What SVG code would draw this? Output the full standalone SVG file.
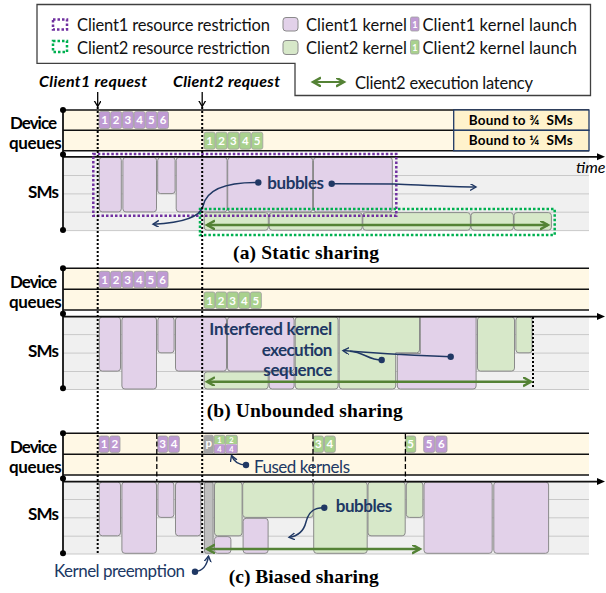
<svg xmlns="http://www.w3.org/2000/svg" width="606" height="593" viewBox="0 0 606 593">
<style>
  text { font-family: Lato, "Liberation Sans", sans-serif; }
  .lane { fill: #fff8e5; }
  .ln { stroke: #111; stroke-width: 1.6; }
  .axis { stroke: #111; stroke-width: 1.8; }
  .smbg { fill: #f0f0f0; }
  .grid { stroke: #c9c9c9; stroke-width: 1; }
  .k1 { fill: #e2d1e9; stroke: #8a8a8a; stroke-width: 1; }
  .k2 { fill: #d7e8c9; stroke: #8a8a8a; stroke-width: 1; }
  .kp { fill: #bfbfbf; stroke: #8a8a8a; stroke-width: 1; }
  .q1 { fill: #bf9bd3; stroke: #a0a0a0; stroke-width: 0.8; }
  .q2 { fill: #a9d18e; stroke: #a0a0a0; stroke-width: 0.8; }
  .qp { fill: #a5a5a5; stroke: #a0a0a0; stroke-width: 0.8; }
  .qt { font-size: 11.5px; font-weight: bold; fill: #fff; text-anchor: middle; }
  .qs { font-size: 9px; font-weight: bold; fill: #fff; text-anchor: middle; }
  .qf { font-size: 7.5px; font-weight: bold; fill: #fff; text-anchor: middle; }
  .lbl { font-size: 17px; font-weight: bold; fill: #000; }
  .leg { font-size: 16.5px; fill: #111; }
  .req { font-size: 16px; font-weight: bold; font-style: italic; fill: #000; }
  .cap { font-family: "Liberation Serif", "Times New Roman", serif; font-size: 19.5px; font-weight: bold; fill: #000; }
  .ann { fill: #203864; }
  .annb { font-size: 17px; font-weight: bold; fill: #203864; }
  .annr { font-size: 17px; fill: #203864; }
  .bound { fill: #fff2cc; stroke: #1f3864; stroke-width: 1.3; }
  .bt { font-size: 13.5px; font-weight: bold; fill: #000; }
  .vdot { stroke: #000; stroke-width: 2; stroke-dasharray: 2 2; fill: none; }
  .vdash { stroke: #000; stroke-width: 1.3; stroke-dasharray: 5 2.5; fill: none; }
  .r1 { fill: none; stroke: #7030a0; stroke-width: 2.5; stroke-dasharray: 2.5 2; }
  .r2 { fill: none; stroke: #00b050; stroke-width: 2.5; stroke-dasharray: 2.5 2; }
  .lat { stroke: #548235; stroke-width: 2.6; fill: none; marker-start: url(#gh); marker-end: url(#gh); }
  .nav { stroke: #203864; stroke-width: 1.5; fill: none; marker-end: url(#na); }
  .dot { fill: #000; }
</style>
<defs>
  <marker id="gh" markerUnits="userSpaceOnUse" markerWidth="12" markerHeight="12" refX="8" refY="4.5" orient="auto-start-reverse">
    <path d="M0,0 L8,4.5 L0,9" fill="none" stroke="#548235" stroke-width="2.4"/>
  </marker>
  <marker id="na" markerUnits="userSpaceOnUse" markerWidth="10" markerHeight="10" refX="6" refY="3.5" orient="auto">
    <path d="M0,0 L6,3.5 L0,7" fill="none" stroke="#203864" stroke-width="1.4"/>
  </marker>
  <marker id="ba" markerUnits="userSpaceOnUse" markerWidth="10" markerHeight="10" refX="6" refY="3.5" orient="auto">
    <path d="M0,0 L6,3.5 L0,7" fill="none" stroke="#000" stroke-width="1.3"/>
  </marker>
</defs>

<!-- legend -->
<g id="legend">
  <path d="M37,4.5 H590.5 V95.5 H295 V63.3 H37 Z" fill="#fff" stroke="#404040" stroke-width="1.3"/>
  <rect x="53" y="19.5" width="14" height="10" class="r1"/>
  <rect x="53" y="41" width="14" height="11" class="r2"/>
  <text class="leg" x="77" y="31" textLength="193">Client1 resource restriction</text>
  <text class="leg" x="77" y="53.5" textLength="193">Client2 resource restriction</text>
  <rect x="283" y="17.5" width="15" height="13.5" rx="3" class="k1"/>
  <rect x="283" y="40.5" width="15" height="14" rx="3" class="k2"/>
  <text class="leg" x="306" y="31" textLength="101">Client1 kernel</text>
  <text class="leg" x="306" y="53.5" textLength="101">Client2 kernel</text>
  <rect x="410.5" y="17" width="8.5" height="14" rx="1.5" class="q1"/>
  <text class="qs" x="414.8" y="27.5">1</text>
  <rect x="410.5" y="40" width="8.5" height="14" rx="1.5" class="q2"/>
  <text class="qs" x="414.8" y="50.5">1</text>
  <text class="leg" x="422.5" y="31" textLength="154.5">Client1 kernel launch</text>
  <text class="leg" x="422.5" y="53.5" textLength="154.5">Client2 kernel launch</text>
  <line x1="313" y1="82" x2="344" y2="82" class="lat" style="stroke-width:2"/>
  <text class="leg" x="355" y="88.5" textLength="178">Client2 execution latency</text>
</g>

<!-- request markers -->
<g id="requests">
  <text class="req" x="39" y="86.7" textLength="108">Client1 request</text>
  <text class="req" x="173" y="86.7" textLength="107">Client2 request</text>
  <line x1="97.7" y1="92" x2="97.7" y2="106.5" stroke="#000" stroke-width="1.3" marker-end="url(#ba)"/>
  <line x1="202.2" y1="92" x2="202.2" y2="106.5" stroke="#000" stroke-width="1.3" marker-end="url(#ba)"/>
</g>

<!-- ===== (a) static sharing ===== -->
<g id="panel-a">
  <rect class="lane" x="63" y="110" width="526" height="40.7"/>
  <line class="ln" x1="63" y1="110" x2="589" y2="110"/>
  <line class="ln" x1="63" y1="130.3" x2="589" y2="130.3"/>
  <line class="ln" x1="63" y1="150.7" x2="589" y2="150.7"/>
  <g id="bound-a">
    <rect class="bound" x="453.7" y="110" width="135.3" height="20.3"/>
    <rect class="bound" x="453.7" y="130.3" width="135.3" height="20.4"/>
    <text class="bt" x="468.7" y="124.5" textLength="104" xml:space="preserve">Bound to ¾  SMs</text>
    <text class="bt" x="468.7" y="145" textLength="104" xml:space="preserve">Bound to ¼  SMs</text>
  </g>
  <g id="queue-a">
    <rect class="q1" x="99" y="111.5" width="11" height="17" rx="2"/><text class="qt" x="104.5" y="124.3">1</text>
    <rect class="q1" x="110.7" y="111.5" width="11" height="17" rx="2"/><text class="qt" x="116.2" y="124.3">2</text>
    <rect class="q1" x="122.4" y="111.5" width="11" height="17" rx="2"/><text class="qt" x="127.9" y="124.3">3</text>
    <rect class="q1" x="134.1" y="111.5" width="11" height="17" rx="2"/><text class="qt" x="139.6" y="124.3">4</text>
    <rect class="q1" x="145.8" y="111.5" width="11" height="17" rx="2"/><text class="qt" x="151.3" y="124.3">5</text>
    <rect class="q1" x="157.5" y="111.5" width="11" height="17" rx="2"/><text class="qt" x="163" y="124.3">6</text>
    <rect class="q2" x="204" y="132.2" width="11.2" height="17" rx="2"/><text class="qt" x="209.6" y="145">1</text>
    <rect class="q2" x="215.9" y="132.2" width="11.2" height="17" rx="2"/><text class="qt" x="221.5" y="145">2</text>
    <rect class="q2" x="227.8" y="132.2" width="11.2" height="17" rx="2"/><text class="qt" x="233.4" y="145">3</text>
    <rect class="q2" x="239.7" y="132.2" width="11.2" height="17" rx="2"/><text class="qt" x="245.3" y="145">4</text>
    <rect class="q2" x="251.6" y="132.2" width="11.2" height="17" rx="2"/><text class="qt" x="257.2" y="145">5</text>
  </g>
  <rect class="smbg" x="63" y="156.8" width="526" height="73.8"/>
  <line class="grid" x1="63" y1="175.5" x2="589" y2="175.5"/>
  <line class="grid" x1="63" y1="193.9" x2="589" y2="193.9"/>
  <line class="grid" x1="63" y1="212.2" x2="589" y2="212.2"/>
  <line class="grid" x1="63" y1="230.6" x2="589" y2="230.6"/>
  <g id="kernels-a">
    <rect class="k1" x="99.3" y="157.3" width="22" height="54.6" rx="3"/>
    <rect class="k1" x="122.9" y="157.3" width="33.6" height="54.6" rx="3"/>
    <rect class="k1" x="157.7" y="157.3" width="17.4" height="36.3" rx="3"/>
    <rect class="k1" x="176.2" y="157.3" width="50.9" height="54.6" rx="3"/>
    <rect class="k1" x="227.7" y="157.3" width="84.9" height="54.6" rx="3"/>
    <rect class="k1" x="313.5" y="157.3" width="78.8" height="54.6" rx="3"/>
    <rect class="k2" x="204.2" y="212.6" width="64.1" height="17.6" rx="3"/>
    <rect class="k2" x="269.2" y="212.6" width="93" height="17.6" rx="3"/>
    <rect class="k2" x="362.8" y="212.6" width="107.6" height="17.6" rx="3"/>
    <rect class="k2" x="471" y="212.6" width="42.4" height="17.6" rx="3"/>
    <rect class="k2" x="514" y="212.6" width="37.4" height="17.6" rx="3"/>
  </g>
  <line class="axis" x1="63" y1="156.8" x2="598" y2="156.8"/>
  <path d="M605,156.8 L597,153.3 L597,160.3 Z" fill="#000"/>
  <text x="576" y="173" font-size="16" font-style="italic" fill="#000">time</text>
  <line class="axis" x1="63" y1="110" x2="63" y2="230"/>
  <circle class="dot" cx="63" cy="110" r="3"/>
  <circle class="dot" cx="63" cy="154.5" r="3"/>
  <circle class="dot" cx="63" cy="230" r="3"/>
  <rect class="r1" x="93.3" y="154" width="303" height="61.7"/>
  <rect class="r2" x="200" y="209" width="354.7" height="26"/>
  <line class="lat" x1="207" y1="225" x2="548" y2="225"/>
  <g id="bubbles-a">
    <text class="annb" x="267.3" y="189" textLength="56.7">bubbles</text>
    <circle class="ann" cx="258.3" cy="182.5" r="3.2"/>
    <path class="nav" d="M258.3,182.5 C222,182 206,192 203,206 C200,218 178,223 153,224.2"/>
    <circle class="ann" cx="331.7" cy="183.7" r="3.2"/>
    <path class="nav" d="M331.7,183.7 L395,184 C420,185 450,187 476,187"/>
  </g>
  <text class="cap" x="233" y="258.5" textLength="146">(a) Static sharing</text>
</g>

<!-- ===== (b) unbounded sharing ===== -->
<g id="panel-b">
  <rect class="lane" x="63" y="268.3" width="526" height="41.7"/>
  <line class="ln" x1="63" y1="268.3" x2="589" y2="268.3"/>
  <line class="ln" x1="63" y1="289.3" x2="589" y2="289.3"/>
  <line class="ln" x1="63" y1="310" x2="589" y2="310"/>
  <g id="queue-b">
    <rect class="q1" x="99" y="271.3" width="11" height="16.5" rx="2"/><text class="qt" x="104.5" y="283.8">1</text>
    <rect class="q1" x="110.6" y="271.3" width="11" height="16.5" rx="2"/><text class="qt" x="116.1" y="283.8">2</text>
    <rect class="q1" x="122.2" y="271.3" width="11" height="16.5" rx="2"/><text class="qt" x="127.7" y="283.8">3</text>
    <rect class="q1" x="133.8" y="271.3" width="11" height="16.5" rx="2"/><text class="qt" x="139.3" y="283.8">4</text>
    <rect class="q1" x="145.4" y="271.3" width="11" height="16.5" rx="2"/><text class="qt" x="150.9" y="283.8">5</text>
    <rect class="q1" x="157" y="271.3" width="11" height="16.5" rx="2"/><text class="qt" x="162.5" y="283.8">6</text>
    <rect class="q2" x="204" y="292" width="11" height="16.5" rx="2"/><text class="qt" x="209.5" y="304.5">1</text>
    <rect class="q2" x="215.6" y="292" width="11" height="16.5" rx="2"/><text class="qt" x="221.1" y="304.5">2</text>
    <rect class="q2" x="227.2" y="292" width="11" height="16.5" rx="2"/><text class="qt" x="232.7" y="304.5">3</text>
    <rect class="q2" x="238.8" y="292" width="11" height="16.5" rx="2"/><text class="qt" x="244.3" y="304.5">4</text>
    <rect class="q2" x="250.4" y="292" width="11" height="16.5" rx="2"/><text class="qt" x="255.9" y="304.5">5</text>
  </g>
  <rect class="smbg" x="63" y="316.6" width="526" height="72.9"/>
  <line class="grid" x1="63" y1="334.6" x2="589" y2="334.6"/>
  <line class="grid" x1="63" y1="353.1" x2="589" y2="353.1"/>
  <line class="grid" x1="63" y1="371.5" x2="589" y2="371.5"/>
  <line class="grid" x1="63" y1="389.5" x2="589" y2="389.5"/>
  <g id="kernels-b">
    <rect class="k1" x="99.3" y="317" width="21.2" height="54.1" rx="3"/>
    <rect class="k1" x="121.9" y="317" width="34.6" height="72" rx="3"/>
    <rect class="k1" x="157.9" y="317" width="16.2" height="35.8" rx="3"/>
    <rect class="k1" x="175.5" y="317" width="51" height="54.1" rx="3"/>
    <rect class="k1" x="227.5" y="317" width="66.6" height="54.1" rx="3"/>
    <rect class="k1" x="269.2" y="371.9" width="24.9" height="17.1" rx="3"/>
    <rect class="k2" x="204.2" y="371.9" width="64" height="17.1" rx="3"/>
    <rect class="k2" x="295.2" y="317" width="42.9" height="72" rx="3"/>
    <path class="k2" stroke-linejoin="round" d="M339.2,317 H419.5 V350 Q419.5,352.8 416.5,352.8 H395.7 V386 Q395.7,389 392.7,389 H342.2 Q339.2,389 339.2,386 Z"/>
    <path class="k1" stroke-linejoin="round" d="M420.3,317 H476.1 V386 Q476.1,389 473.1,389 H400.3 Q397.3,389 397.3,386 V356.6 Q397.3,353.6 400.3,353.6 H420.3 Z"/>
    <rect class="k2" x="477.5" y="317" width="37" height="54.1" rx="3"/>
    <rect class="k2" x="515.9" y="317" width="16.2" height="35.8" rx="3"/>
  </g>
  <line class="axis" x1="63" y1="316.6" x2="598" y2="316.6"/>
  <path d="M605,316.6 L597,313.1 L597,320.1 Z" fill="#000"/>
  <line class="axis" x1="63" y1="268.3" x2="63" y2="388.3"/>
  <circle class="dot" cx="63" cy="268.3" r="3"/>
  <circle class="dot" cx="63" cy="313.8" r="3"/>
  <circle class="dot" cx="63" cy="388.3" r="3"/>
  <line class="vdot" x1="533" y1="317" x2="533" y2="389"/>
  <line class="lat" x1="207" y1="381.7" x2="531" y2="381.7"/>
  <g id="interfered-b">
    <text class="annb" font-size="14.5"><tspan x="209.3" y="335" textLength="123">Interfered kernel</tspan><tspan x="261.7" y="355.8" textLength="70.6">execution</tspan><tspan x="263.3" y="375.6" textLength="69">sequence</tspan></text>
    <circle class="ann" cx="450.7" cy="356.7" r="3.2"/>
    <circle class="ann" cx="381.7" cy="360" r="3.2"/>
    <path class="nav" d="M450.7,356.7 C420,356 385,354 343,350.6"/>
    <path d="M381.7,360 C368,360 364,352 350,351.2" fill="none" stroke="#203864" stroke-width="1.5"/>
  </g>
  <text class="cap" x="206.7" y="416.7" textLength="196">(b) Unbounded sharing</text>
</g>

<!-- ===== (c) biased sharing ===== -->
<g id="panel-c">
  <rect class="lane" x="63" y="433.3" width="526" height="41.7"/>
  <line class="ln" x1="63" y1="433.3" x2="589" y2="433.3"/>
  <line class="ln" x1="63" y1="454.3" x2="589" y2="454.3"/>
  <line class="ln" x1="63" y1="475" x2="589" y2="475"/>
  <g id="queue-c">
    <rect class="q1" x="99" y="436" width="10" height="16.4" rx="2"/><text class="qt" x="104" y="448.4">1</text>
    <rect class="q1" x="109.7" y="436" width="10.3" height="16.4" rx="2"/><text class="qt" x="114.9" y="448.4">2</text>
    <rect class="q1" x="157.7" y="436" width="10" height="16.4" rx="2"/><text class="qt" x="162.7" y="448.4">3</text>
    <rect class="q1" x="168.7" y="436" width="10.6" height="16.4" rx="2"/><text class="qt" x="174" y="448.4">4</text>
    <rect class="qp" x="204" y="435.3" width="9.3" height="18" rx="1.5"/><text class="qt" x="208.7" y="446.5">p</text>
    <g id="fused-1">
      <rect x="214" y="435.3" width="11" height="9" rx="1.5" fill="#a9d18e"/>
      <rect x="214" y="444.3" width="11" height="9" rx="1.5" fill="#bf9bd3"/>
      <rect x="214" y="435.3" width="11" height="18" rx="1.5" fill="none" stroke="#a0a0a0" stroke-width="0.8"/>
      <text class="qf" x="219.5" y="442.5">1</text><text class="qf" x="219.5" y="452">4</text>
    </g>
    <g id="fused-2">
      <rect x="225.7" y="435.3" width="11.6" height="9" rx="1.5" fill="#a9d18e"/>
      <rect x="225.7" y="444.3" width="11.6" height="9" rx="1.5" fill="#bf9bd3"/>
      <rect x="225.7" y="435.3" width="11.6" height="18" rx="1.5" fill="none" stroke="#a0a0a0" stroke-width="0.8"/>
      <text class="qf" x="231.5" y="442.5">2</text><text class="qf" x="231.5" y="452">4</text>
    </g>
    <rect class="q2" x="313.3" y="436" width="10.2" height="16.4" rx="2"/><text class="qt" x="318.4" y="448.4">3</text>
    <rect class="q2" x="324.5" y="436" width="10.8" height="16.4" rx="2"/><text class="qt" x="329.9" y="448.4">4</text>
    <rect class="q2" x="405.7" y="436" width="10" height="16.4" rx="2"/><text class="qt" x="410.7" y="448.4">5</text>
    <rect class="q1" x="423.7" y="436" width="11" height="16.4" rx="2"/><text class="qt" x="429.2" y="448.4">5</text>
    <rect class="q1" x="435.7" y="436" width="11.3" height="16.4" rx="2"/><text class="qt" x="441.3" y="448.4">6</text>
  </g>
  <rect class="smbg" x="63" y="481.6" width="526" height="72.4"/>
  <line class="grid" x1="63" y1="499.5" x2="589" y2="499.5"/>
  <line class="grid" x1="63" y1="517.8" x2="589" y2="517.8"/>
  <line class="grid" x1="63" y1="536.2" x2="589" y2="536.2"/>
  <line class="grid" x1="63" y1="554" x2="589" y2="554"/>
  <g id="kernels-c">
    <rect class="k1" x="99.3" y="482" width="21.2" height="53.8" rx="3"/>
    <rect class="k1" x="121.9" y="482" width="34.6" height="71.3" rx="3"/>
    <rect class="k1" x="157.9" y="482" width="16" height="35.4" rx="3"/>
    <rect class="k1" x="175.5" y="482" width="25.3" height="53.8" rx="3"/>
    <rect class="kp" x="204.5" y="482" width="8.6" height="71.3" rx="2"/>
    <rect class="k2" x="214.5" y="482" width="27.6" height="53.8" rx="3"/>
    <rect class="k1" x="214.5" y="536.6" width="16.4" height="16.7" rx="3"/>
    <rect class="k2" x="242.7" y="482" width="70.4" height="35.4" rx="3"/>
    <rect class="k1" x="243.1" y="518.3" width="25" height="35" rx="3"/>
    <rect class="k2" x="313.7" y="482" width="53.5" height="71.3" rx="3"/>
    <rect class="k2" x="368" y="482" width="37.2" height="53.8" rx="3"/>
    <rect class="k2" x="406.3" y="482" width="16.6" height="35.4" rx="3"/>
    <rect class="k1" x="424" y="482" width="68.2" height="71.3" rx="3"/>
    <rect class="k1" x="493.8" y="482" width="54.8" height="71.3" rx="3"/>
  </g>
  <line class="vdash" x1="156.8" y1="434" x2="156.8" y2="482"/>
  <line class="vdash" x1="313" y1="434" x2="313" y2="482"/>
  <line class="vdash" x1="405.4" y1="434" x2="405.4" y2="482"/>
  <line class="axis" x1="63" y1="481.6" x2="598" y2="481.6"/>
  <path d="M605,481.6 L597,478.1 L597,485.1 Z" fill="#000"/>
  <line class="axis" x1="63" y1="433.3" x2="63" y2="553.3"/>
  <circle class="dot" cx="63" cy="433.3" r="3"/>
  <circle class="dot" cx="63" cy="478.5" r="3"/>
  <circle class="dot" cx="63" cy="553.3" r="3"/>
  <line class="lat" x1="207" y1="549" x2="420" y2="549"/>
  <g id="fused-note">
    <text class="annr" x="254" y="472.5" textLength="96">Fused kernels</text>
    <circle class="ann" cx="246" cy="465" r="3.2"/>
    <path class="nav" d="M246,465 C238,465 234,462 231.5,455.5"/>
  </g>
  <g id="bubbles-c">
    <text class="annb" x="335.7" y="511.5" textLength="56.6">bubbles</text>
    <circle class="ann" cx="324.3" cy="507.7" r="3.2"/>
    <path class="nav" d="M324.3,507.7 C312,507 308,514 306,522 C304,530 299,536 289,537.3"/>
  </g>
  <g id="preempt-note">
    <text class="annr" x="54" y="576.7" textLength="131">Kernel preemption</text>
    <circle class="ann" cx="195" cy="571.7" r="3.2"/>
    <path class="nav" d="M195,571.7 C203,571 207,566 208.5,556"/>
  </g>
  <text class="cap" x="228.7" y="583.3" textLength="150">(c) Biased sharing</text>
</g>

<!-- request timelines -->
<g id="request-lines">
  <line class="vdot" x1="97.7" y1="107" x2="97.7" y2="553.5"/>
  <line class="vdot" x1="202.2" y1="107" x2="202.2" y2="553.5"/>
</g>

<!-- row labels -->
<g id="row-labels">
  <text class="lbl" x="10" y="129" textLength="47">Device</text>
  <text class="lbl" x="9" y="149" textLength="52.7">queues</text>
  <text class="lbl" x="28" y="197.5" textLength="31">SMs</text>
  <text class="lbl" x="10" y="288.3" textLength="47">Device</text>
  <text class="lbl" x="9" y="308" textLength="52.7">queues</text>
  <text class="lbl" x="28" y="356.5" textLength="31">SMs</text>
  <text class="lbl" x="10" y="453.3" textLength="47">Device</text>
  <text class="lbl" x="9" y="473" textLength="52.7">queues</text>
  <text class="lbl" x="28" y="520" textLength="31">SMs</text>
</g>
</svg>
